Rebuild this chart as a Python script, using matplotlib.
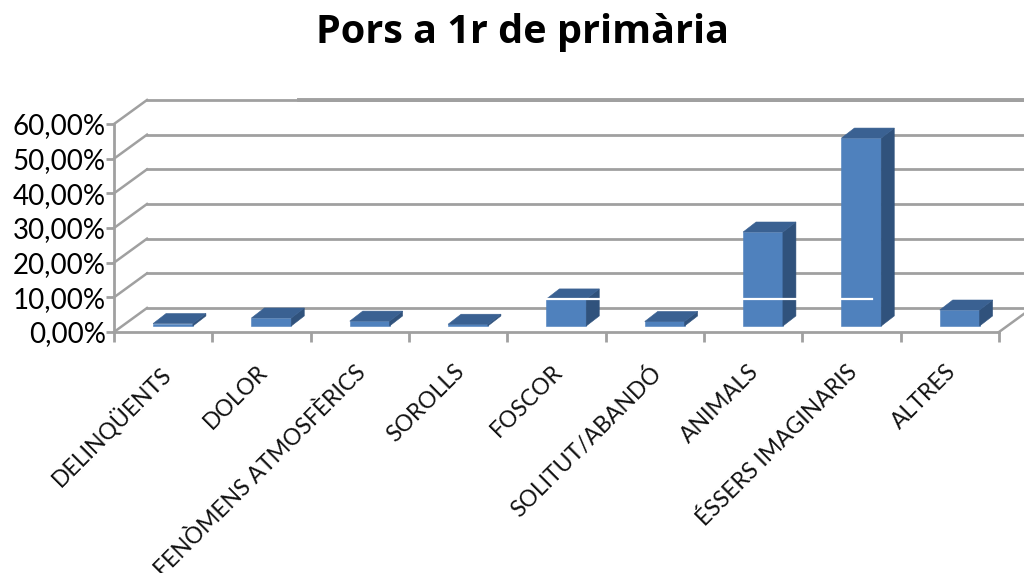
import matplotlib
matplotlib.use('Agg')
import matplotlib.pyplot as plt
from matplotlib.patches import Polygon

categories = ['DELINQÜENTS', 'DOLOR', 'FENÒMENS ATMOSFÈRICS', 'SOROLLS', 'FOSCOR',
              'SOLITUT/ABANDÓ', 'ANIMALS', 'ÉSSERS IMAGINARIS', 'ALTRES']
values = [0.7, 2.3, 1.4, 0.5, 7.8, 1.3, 27.1, 54.2, 4.6]
yticks = [0, 10, 20, 30, 40, 50, 60]
ylabels = ['0,00%', '10,00%', '20,00%', '30,00%', '40,00%', '50,00%', '60,00%']

W, H = 1024, 573
plt.rcParams['font.family'] = ['Lato', 'DejaVu Sans']
fig = plt.figure(figsize=(W / 100, H / 100), dpi=100)
ax = fig.add_axes([114 / W, 1 - 332 / H, 885 / W, 208 / H])
ax.set_xlim(0, 9)
ax.set_ylim(0, 60)
ax.patch.set_visible(False)

grid = '#a0a0a0'
wall_x = 33 / 98.33
wall_y = 24 / 3.467

# back wall and left side
for t in yticks:
    ax.plot([0, wall_x], [t, t + wall_y], color=grid, lw=1.8, clip_on=False, zorder=1)
    ax.plot([wall_x, 9.3], [t + wall_y, t + wall_y], color=grid, lw=2.0, clip_on=False, zorder=1)
ax.plot([9, 9 + wall_x], [0, wall_y], color=grid, lw=1.8, clip_on=False, zorder=1)
# top line is heavier from here on in the original
ax.plot([1.88, 9.3], [60 + wall_y, 60 + wall_y], color=grid, lw=2.8, clip_on=False, zorder=1)

# bars with fake depth
depth_x = 13 / 98.33
depth_y = 2.9
floor = 1.73
width = 0.405
front = '#4f81bd'
side = '#30527c'
top = '#3a6192'
for i, v in enumerate(values):
    x0 = i + 0.6 - width / 2
    x1 = x0 + width
    y0, y1 = floor, floor + v
    ax.bar(i + 0.6, v, width=width, bottom=floor, color=front, edgecolor=front, lw=0.4, zorder=3)
    ax.add_patch(Polygon([(x1, y0), (x1 + depth_x, y0 + depth_y), (x1 + depth_x, y1 + depth_y), (x1, y1)],
                         facecolor=side, edgecolor=side, lw=0.4, zorder=3))
    ax.add_patch(Polygon([(x0, y1), (x1, y1), (x1 + depth_x, y1 + depth_y), (x0 + depth_x, y1 + depth_y)],
                         facecolor=top, edgecolor=top, lw=0.4, zorder=3))

# white scan streaks across the bars
white_y = (332 - 299) / 3.467
ax.plot([4.4, 4.95], [white_y, white_y], color='white', lw=1.6, zorder=4)
ax.plot([6.4, 6.94], [white_y, white_y], color='white', lw=1.6, zorder=4)
ax.plot([7.4, 7.71], [white_y, white_y], color='white', lw=1.6, zorder=4)

for name in ['top', 'right']:
    ax.spines[name].set_visible(False)
for name in ['left', 'bottom']:
    ax.spines[name].set_color(grid)
    ax.spines[name].set_linewidth(2.0)

ax.set_yticks(yticks)
ax.set_yticklabels(ylabels, fontsize=20, color='black')
ax.tick_params(axis='y', length=6, width=2.0, color=grid, pad=0)
ax.set_xticks(range(10))
ax.set_xticklabels([''] * 10)
ax.tick_params(axis='x', length=7, width=2.0, color=grid, direction='out')

for i, name in enumerate(categories):
    ax.annotate(name, xy=(i + 0.5, 0), xytext=(-5, -29), textcoords='offset pixels',
                rotation=45, rotation_mode='anchor', ha='right', va='top',
                fontsize=16.5, color='#111111', annotation_clip=False)

fig.text(523 / W, 1 - 32 / H, 'Pors a 1r de primària', ha='center', va='center',
         fontsize=28.5, fontweight='bold', family=['Open Sans', 'DejaVu Sans'])

fig.savefig('out.png', dpi=100)
